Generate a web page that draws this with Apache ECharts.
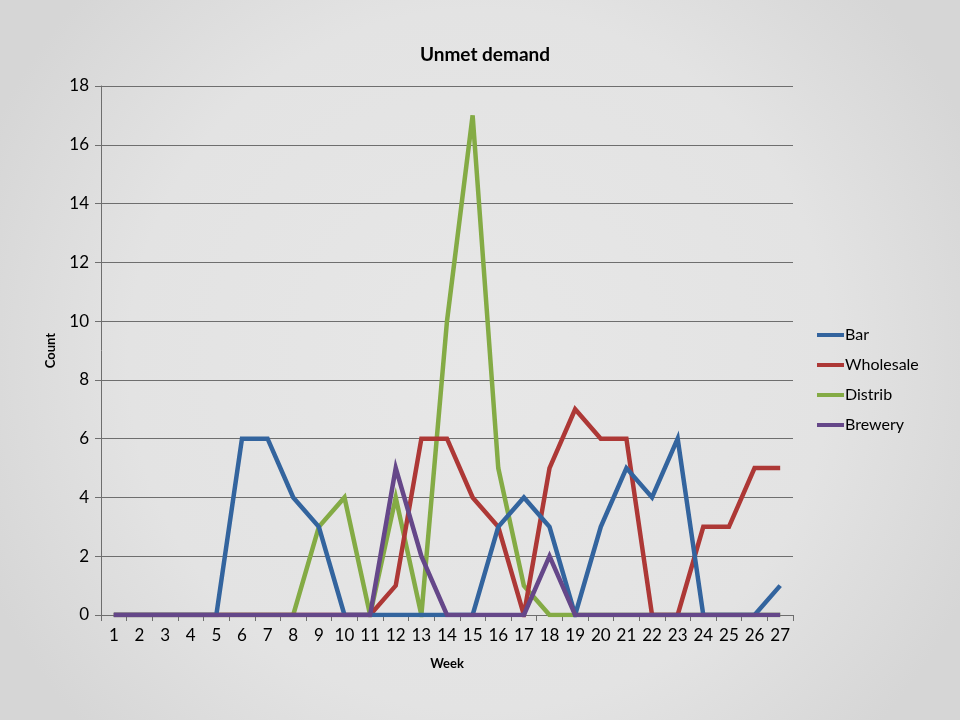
<!DOCTYPE html>
<html>
<head>
<meta charset="utf-8">
<style>
html,body{margin:0;padding:0;width:960px;height:720px;overflow:hidden;}
#c{width:960px;height:720px;}
</style>
<script src="https://cdn.jsdelivr.net/npm/echarts@6/dist/echarts.min.js"></script>
</head>
<body>
<div id="c"></div>
<script>
var weeks = ['1','2','3','4','5','6','7','8','9','10','11','12','13','14','15','16','17','18','19','20','21','22','23','24','25','26','27'];
var bar       = [0,0,0,0,0,6,6,4,3,0,0,0,0,0,0,3,4,3,0,3,5,4,6,0,0,0,1];
var wholesale = [0,0,0,0,0,0,0,0,0,0,0,1,6,6,4,3,0,5,7,6,6,0,0,3,3,5,5];
var distrib   = [0,0,0,0,0,0,0,0,3,4,0,4,0,10,17,5,1,0,0,0,0,0,0,0,0,0,0];
var brewery   = [0,0,0,0,0,0,0,0,0,0,0,5,2,0,0,0,0,2,0,0,0,0,0,0,0,0,0];
var seriesNames = ['Bar','Wholesale','Distrib','Brewery'];
var colors = ['#33649e','#ad3836','#84ab45','#654789'];

var font = 'Lato, "Open Sans", sans-serif';
var chart = echarts.init(document.getElementById('c'));
function mk(name, data, color, z){
  return {name:name,type:'line',data:data,symbol:'none',z:z,
    lineStyle:{width:4.5,color:color,join:'miter'},itemStyle:{color:color}};
}
chart.setOption({
  backgroundColor:{type:'radial',x:0.5,y:0.5,r:0.75,colorStops:[
    {offset:0,color:'#e7e7e7'},{offset:0.65,color:'#e3e3e3'},{offset:1,color:'#d6d6d6'}]},
  title:{text:'Unmet demand',left:480,top:40,textAlign:'center',
    textStyle:{fontFamily:font,fontSize:19,fontWeight:'bold',color:'#000'}},
  grid:{left:101,right:167,top:86,bottom:105,containLabel:false},
  legend:{orient:'vertical',left:812,top:322,itemWidth:27,itemHeight:4,itemGap:14,icon:'rect',
    data:seriesNames,textStyle:{fontFamily:font,fontSize:16,color:'#000',padding:[0,0,0,-4]}},
  xAxis:{type:'category',data:weeks,boundaryGap:true,
    name:'Week',nameLocation:'middle',nameGap:42,
    nameTextStyle:{fontFamily:font,fontSize:13,fontWeight:'bold',color:'#000'},
    axisLine:{lineStyle:{color:'#6e6e6e',width:1}},
    axisTick:{show:true,length:6,inside:false,alignWithLabel:false,lineStyle:{color:'#6e6e6e'}},
    axisLabel:{fontFamily:font,fontSize:17,color:'#000',margin:12,interval:0}},
  yAxis:{type:'value',min:0,max:18,interval:2,
    name:'Count',nameLocation:'middle',nameGap:44,nameRotate:90,
    nameTextStyle:{fontFamily:font,fontSize:13,fontWeight:'bold',color:'#000'},
    axisLine:{show:true,lineStyle:{color:'#6e6e6e',width:1}},
    axisTick:{show:true,length:6,lineStyle:{color:'#6e6e6e'}},
    axisLabel:{fontFamily:font,fontSize:17,color:'#000',margin:12},
    splitLine:{show:true,lineStyle:{color:'#6e6e6e',width:1}}},
  series:[
    mk('Bar',bar,colors[0],4),
    mk('Wholesale',wholesale,colors[1],3),
    mk('Distrib',distrib,colors[2],2),
    mk('Brewery',brewery,colors[3],5)
  ]
});
</script>
</body>
</html>
